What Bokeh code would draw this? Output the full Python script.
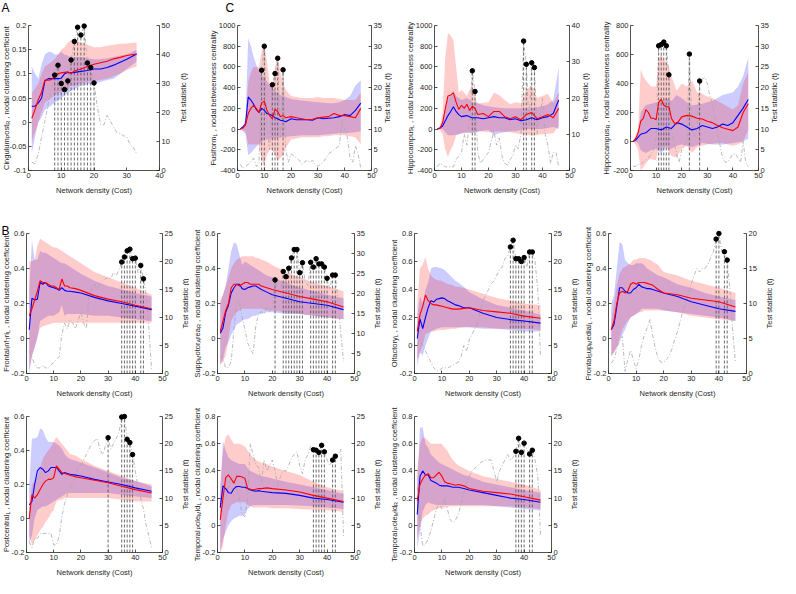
import math
from bokeh.plotting import figure
from bokeh.models import Range1d, LinearAxis, FixedTicker, CustomJSTickFormatter
from bokeh.core.properties import value
from bokeh.layouts import row, column
from bokeh.embed import file_html
from bokeh.resources import INLINE

FONT = "Liberation Sans"
AXC = "#262626"
FS = 7.5
FS_SUB = 5.5

# ---------------- x grids (network density, %) ----------------
DENSITY = list(range(1, 47))
DENSITY_A = list(range(1, 34))
XA = [1, 2, 3, 4, 5, 6, 7, 8, 9, 10, 11, 12, 13, 14, 16, 18, 20, 22, 24, 26, 28, 30, 33]
XB = [1, 2, 3, 4, 5, 6, 7, 8, 9, 10, 11, 12, 13, 14, 15, 16, 18, 20, 25, 30, 35, 40, 46]
XC = [1, 2, 3, 4, 5, 6, 7, 8, 9, 10, 11, 12, 13, 14, 15, 16, 17, 18,
      20, 22, 24, 26, 28, 30, 32, 34, 36, 38, 40, 42, 44, 46]

X_LABEL = "Network density (Cost)"
T_LABEL = "Test statistic (t)"
CLUST = "nodal clustering coefficient"
BETW = "nodal betweenness centrality"

# ---------------- Panel A : Cingulum_Post_R ----------------
A_region = "Cingulum_Post_R"
A_red = [0.008, 0.026, 0.047, 0.062, 0.087, 0.087, 0.088, 0.095, 0.1, 0.102, 0.103, 0.104, 0.101, 0.106, 0.11, 0.115, 0.12, 0.123, 0.126, 0.131, 0.134, 0.138, 0.141]
A_blue = [0.033, 0.033, 0.04, 0.05, 0.085, 0.09, 0.09, 0.09, 0.09, 0.091, 0.1, 0.103, 0.102, 0.103, 0.105, 0.107, 0.11, 0.11, 0.113, 0.118, 0.124, 0.13, 0.141]
A_red_hi = [0.06, 0.07, 0.08, 0.1, 0.115, 0.12, 0.125, 0.13, 0.14, 0.15, 0.155, 0.165, 0.17, 0.17, 0.165, 0.16, 0.155, 0.155, 0.158, 0.16, 0.162, 0.163, 0.165]
A_red_lo = [-0.04, -0.02, 0.0, 0.02, 0.04, 0.045, 0.05, 0.055, 0.06, 0.062, 0.065, 0.07, 0.075, 0.075, 0.08, 0.083, 0.085, 0.088, 0.09, 0.095, 0.1, 0.108, 0.115]
A_blue_hi = [0.115, 0.1, 0.09, 0.12, 0.14, 0.145, 0.145, 0.14, 0.14, 0.145, 0.14, 0.138, 0.135, 0.135, 0.135, 0.133, 0.13, 0.13, 0.132, 0.135, 0.138, 0.14, 0.15]
A_blue_lo = [-0.065, -0.03, 0.0, 0.01, 0.025, 0.03, 0.035, 0.04, 0.045, 0.05, 0.055, 0.06, 0.065, 0.068, 0.075, 0.078, 0.08, 0.083, 0.087, 0.09, 0.1, 0.11, 0.125]
A_t = [2.9, 2.3, 5.8, 11.6, 17.0, 23.0, 28.0, 32.9, 36.3, 30.0,
       27.9, 30.9, 38.1, 44.5, 49.4, 46.7, 49.8, 37.1, 35.5, 30.2,
       22.0, 16.0, 15.7, 19.0, 17.0, 15.0, 13.0, 12.8, 12.0, 11.6,
       9.0, 8.0, 5.8]
A_sig = [8, 9, 10, 11, 12, 13, 14, 15, 16, 17, 18, 19, 20]
A_xticks = [0, 10, 20, 30, 40]
A_yticks = [-0.1, -0.05, 0, 0.05, 0.1, 0.15, 0.2]
A_tticks = [0, 10, 20, 30, 40, 50]

# ---------------- Panel C1 : Fusiform_L ----------------
C1_region = "Fusiform_L"
C1_red = [0, 10, 40, 150, 200, 230, 200, 160, 250, 270, 180, 130, 100, 190, 170, 120, 130, 110,
          120, 110, 100, 90, 95, 110, 115, 120, 150, 130, 130, 120, 110, 200]
C1_blue = [0, 20, 50, 310, 280, 240, 190, 160, 200, 180, 150, 140, 130, 110, 100, 85, 80, 70,
           100, 90, 90, 90, 85, 110, 100, 105, 110, 120, 140, 130, 180, 250]
C1_red_hi = [0, 30, 60, 450, 550, 600, 600, 600, 750, 830, 650, 450, 400, 600, 700, 550, 450, 380,
             320, 310, 300, 300, 300, 310, 300, 300, 300, 290, 280, 280, 280, 350]
C1_red_lo = [0, -10, -20, -150, -150, -150, -150, -150, -300, -350, -250, -200, -200, -250, -300, -280, -250, -180,
             -100, -90, -80, -80, -80, -80, -70, -70, -60, -60, -60, -70, -80, -150]
C1_blue_hi = [0, 30, 100, 880, 800, 700, 620, 560, 520, 500, 460, 420, 400, 370, 350, 330, 320, 310,
              290, 280, 275, 270, 265, 260, 255, 250, 250, 260, 280, 320, 420, 470]
C1_blue_lo = [0, -20, -50, -250, -230, -200, -170, -150, -130, -100, -100, -95, -90, -90, -85, -80, -80, -75,
              -70, -65, -60, -60, -60, -60, -55, -50, -45, -40, -40, -35, -30, -20]
C1_t = [1.5, 0.5, 1, 1.5, 2, 3, 1, 1.5, 24.2, 30.0,
        10, 5, 20.7, 23.4, 27.1, 8, 24.3, 5, 2, 4,
        3.5, 3, 2.5, 1.5, 2, 2.5, 2, 2.5, 1.5, 1,
        1.5, 2, 3, 4, 4.5, 5, 5.5, 6, 12, 10,
        8, 3, 2, 6, 4, 0.5]
C1_sig = [9, 10, 13, 14, 15, 17]
C1_yticks = [-400, -200, 0, 200, 400, 600, 800, 1000]
C1_tticks = [0, 5, 10, 15, 20, 25, 30, 35]

# ---------------- Panel C2 : Hippocampus_L ----------------
C2_region = "Hippocampus_L"
C2_red = [0, 5, 60, 200, 320, 330, 350, 260, 190, 230, 200, 240, 180, 220, 200, 140, 145, 150,
          120, 170, 170, 120, 100, 120, 90, 140, 160, 100, 120, 140, 110, 200]
C2_blue = [0, 10, 30, 80, 130, 170, 215, 170, 140, 120, 125, 130, 120, 110, 110, 110, 105, 100,
           110, 120, 110, 110, 90, 100, 80, 90, 110, 90, 110, 120, 150, 280]
C2_red_hi = [0, 30, 150, 700, 930, 900, 860, 600, 350, 380, 350, 320, 380, 430, 300, 250, 250, 255,
             260, 350, 330, 280, 240, 260, 250, 380, 420, 300, 320, 340, 250, 360]
C2_red_lo = [0, -10, -50, -200, -270, -200, -150, -60, -50, -40, -35, -30, -35, -40, -30, -20, -20, -25,
             -30, -25, -20, -25, -30, -40, -50, -60, -60, -55, -50, -45, -40, 30]
C2_blue_hi = [0, 20, 60, 200, 300, 330, 370, 320, 300, 280, 290, 300, 280, 260, 255, 250, 240, 230,
              220, 210, 205, 200, 200, 200, 200, 200, 200, 210, 220, 240, 280, 600]
C2_blue_lo = [0, 0, 0, -30, -60, -60, -60, -55, -50, -40, -38, -35, -33, -32, -30, -25, -20, -15,
              -10, -60, -40, -30, -20, -20, -10, 0, 0, 0, 0, 10, 20, 0]
C2_t = [1, 2, 1.5, 1, 1, 1, 1, 3, 4, 5,
        10, 7, 14, 27.5, 21.8, 5, 2, 3, 4, 5,
        8, 10.7, 7, 9, 4, 2, 1.5, 3, 4, 7,
        6, 10, 35.7, 29.3, 12, 29.7, 28.4, 10, 15, 20,
        10, 7, 2, 5, 5, 1]
C2_sig = [14, 15, 33, 34, 36, 37]
C2_yticks = [-400, -200, 0, 200, 400, 600, 800, 1000]
C2_tticks = [0, 10, 20, 30, 40]

# ---------------- Panel C3 : Hippocampus_R ----------------
C3_region = "Hippocampus_R"
C3_red = [0, 20, 60, 140, 160, 220, 200, 160, 160, 150, 270, 290, 250, 240, 240, 160, 130, 120,
          170, 180, 175, 160, 155, 140, 130, 110, 95, 85, 75, 100, 200, 260]
C3_blue = [0, 10, 30, 50, 55, 60, 75, 90, 90, 90, 85, 80, 90, 100, 95, 90, 110, 130,
           120, 100, 80, 90, 110, 100, 90, 100, 120, 110, 130, 180, 230, 290]
C3_red_hi = [0, 40, 100, 500, 450, 420, 400, 380, 380, 380, 570, 600, 560, 550, 520, 450, 400, 350,
             400, 380, 420, 340, 330, 310, 300, 280, 260, 240, 220, 250, 400, 480]
C3_red_lo = [0, -20, -60, -200, -180, -150, -130, -120, -125, -130, -50, -40, -40, -40, -70, -100, -105, -110,
             -50, -30, -80, -40, -30, -20, -15, -10, -10, -20, -30, -20, 0, 80]
C3_blue_hi = [0, 20, 60, 200, 230, 250, 255, 260, 265, 270, 275, 280, 290, 300, 290, 280, 300, 320,
              300, 270, 250, 255, 260, 270, 280, 300, 320, 330, 340, 380, 450, 580]
C3_blue_lo = [0, 0, -10, -60, -70, -80, -70, -60, -55, -50, -65, -80, -60, -40, -45, -50, -40, -30,
              -20, -30, -40, -25, -10, -15, -20, -20, -20, -15, -10, -5, 0, 20]
C3_t = [1, 1, 1.5, 1.5, 2, 2.5, 3, 4, 5, 8,
        30.1, 30.4, 31.0, 30.1, 23.1, 10, 7, 4, 2, 5,
        6, 7, 28.1, 11, 8, 10, 21.6, 22, 22.5, 21,
        18, 16, 13, 9, 6, 3, 2, 2, 3, 4,
        4, 3, 2, 7, 2, 1]
C3_sig = [11, 12, 13, 14, 15, 23, 27]
C3_yticks = [-200, 0, 200, 400, 600, 800]
C3_tticks = [0, 5, 10, 15, 20, 25, 30, 35]

# ---------------- Panel B1 : Frontal_Inf_Tri_L ----------------
B1_region = "Frontal_Inf_Tri_L"
B1_red = [0.13, 0.17, 0.22, 0.27, 0.33, 0.32, 0.32, 0.31, 0.30, 0.30, 0.29, 0.28, 0.34, 0.30, 0.30, 0.29, 0.285, 0.275, 0.245, 0.225, 0.21, 0.19, 0.17]
B1_blue = [0.05, 0.23, 0.22, 0.225, 0.32, 0.31, 0.32, 0.30, 0.295, 0.29, 0.285, 0.275, 0.29, 0.275, 0.27, 0.27, 0.265, 0.26, 0.235, 0.215, 0.2, 0.185, 0.165]
B1_red_hi = [0.44, 0.44, 0.45, 0.53, 0.57, 0.56, 0.55, 0.54, 0.53, 0.52, 0.52, 0.51, 0.50, 0.49, 0.48, 0.47, 0.45, 0.43, 0.38, 0.35, 0.32, 0.29, 0.25]
B1_red_lo = [-0.18, -0.10, -0.05, 0.01, 0.06, 0.07, 0.075, 0.08, 0.085, 0.09, 0.09, 0.09, 0.09, 0.09, 0.09, 0.09, 0.09, 0.09, 0.09, 0.09, 0.09, 0.09, 0.09]
B1_blue_hi = [0.28, 0.56, 0.45, 0.45, 0.50, 0.49, 0.49, 0.48, 0.47, 0.46, 0.45, 0.44, 0.43, 0.43, 0.42, 0.41, 0.39, 0.37, 0.33, 0.30, 0.28, 0.26, 0.24]
B1_blue_lo = [-0.2, -0.1, -0.05, 0.0, 0.1, 0.11, 0.12, 0.13, 0.13, 0.13, 0.14, 0.15, 0.19, 0.13, 0.14, 0.14, 0.14, 0.14, 0.13, 0.13, 0.12, 0.11, 0.10]
B1_t = [4, 3, 1.5, 1, 1, 1.5, 1, 1, 1.5, 2,
        2.5, 3, 7, 9, 8, 9.5, 9, 8, 9.5, 11,
        9, 8, 14, 15, 16, 15, 16, 16.5, 17, 17,
        17, 18, 17.5, 18.5, 19.9, 20.8, 21.9, 22.2, 20.5, 20.6,
        18, 19.3, 16.9, 14, 8, 0.5]
B1_sig = [35, 36, 37, 38, 39, 40, 42, 43]
B1_yticks = [-0.2, 0, 0.2, 0.4, 0.6]
B1_tticks = [0, 5, 10, 15, 20, 25]

# ---------------- Panel B2 : Supp_Motor_Area_R ----------------
B2_region = "Supp_Motor_Area_R"
B2_red = [0.04, 0.10, 0.16, 0.20, 0.29, 0.31, 0.31, 0.30, 0.31, 0.32, 0.32, 0.31, 0.31, 0.31, 0.31, 0.30, 0.29, 0.28, 0.26, 0.24, 0.225, 0.21, 0.18]
B2_blue = [0.03, 0.06, 0.15, 0.19, 0.26, 0.29, 0.31, 0.31, 0.285, 0.28, 0.29, 0.295, 0.30, 0.30, 0.29, 0.28, 0.265, 0.25, 0.23, 0.21, 0.20, 0.19, 0.165]
B2_red_hi = [0.22, 0.25, 0.30, 0.35, 0.40, 0.43, 0.45, 0.46, 0.47, 0.47, 0.47, 0.47, 0.47, 0.46, 0.46, 0.45, 0.44, 0.42, 0.38, 0.35, 0.32, 0.30, 0.27]
B2_red_lo = [-0.15, -0.13, -0.10, 0.0, 0.10, 0.13, 0.15, 0.16, 0.17, 0.17, 0.17, 0.17, 0.17, 0.17, 0.17, 0.17, 0.16, 0.16, 0.15, 0.14, 0.13, 0.12, 0.11]
B2_blue_hi = [0.20, 0.25, 0.30, 0.40, 0.50, 0.55, 0.54, 0.48, 0.42, 0.44, 0.43, 0.42, 0.41, 0.40, 0.39, 0.38, 0.36, 0.35, 0.32, 0.29, 0.27, 0.25, 0.23]
B2_blue_lo = [-0.15, -0.12, -0.05, -0.02, 0.02, 0.05, 0.08, 0.09, 0.10, 0.11, 0.11, 0.12, 0.13, 0.13, 0.14, 0.14, 0.15, 0.15, 0.14, 0.14, 0.13, 0.12, 0.11]
B2_t = [4.5, 3.5, 1.5, 1.5, 3, 11, 17.5, 18, 14, 11,
        7.7, 6, 5, 12, 15, 15.5, 15, 16.7, 15.5, 16.5,
        23.4, 21, 20, 25.5, 24.2, 26.3, 28.9, 31.0, 31.0, 25.2,
        27.7, 23, 22, 27.8, 26.6, 28.7, 27.4, 27.4, 26.6, 23.8,
        21, 24.6, 24.6, 18, 10, 3]
B2_sig = [21, 24, 25, 26, 27, 28, 29, 30, 31, 34, 35, 36, 37, 38, 39, 40, 42, 43]
B2_yticks = [-0.2, 0, 0.2, 0.4, 0.6]
B2_tticks = [0, 5, 10, 15, 20, 25, 30, 35]

# ---------------- Panel B3 : Olfactory_L ----------------
B3_region = "Olfactory_L"
B3_red = [0.10, 0.22, 0.28, 0.36, 0.32, 0.30, 0.29, 0.29, 0.285, 0.28, 0.275, 0.27, 0.265, 0.26, 0.26, 0.26, 0.265, 0.27, 0.25, 0.24, 0.23, 0.21, 0.195]
B3_blue = [0.05, 0.19, 0.12, 0.20, 0.27, 0.32, 0.31, 0.33, 0.335, 0.34, 0.335, 0.32, 0.31, 0.30, 0.29, 0.285, 0.27, 0.27, 0.23, 0.20, 0.185, 0.175, 0.16]
B3_red_hi = [0.30, 0.55, 0.58, 0.63, 0.55, 0.50, 0.48, 0.47, 0.465, 0.46, 0.45, 0.44, 0.435, 0.43, 0.42, 0.42, 0.41, 0.40, 0.37, 0.34, 0.32, 0.30, 0.29]
B3_red_lo = [-0.10, -0.05, 0.0, 0.08, 0.09, 0.10, 0.10, 0.105, 0.11, 0.11, 0.11, 0.115, 0.12, 0.12, 0.12, 0.125, 0.13, 0.13, 0.13, 0.12, 0.12, 0.12, 0.11]
B3_blue_hi = [0.20, 0.35, 0.30, 0.40, 0.45, 0.55, 0.56, 0.56, 0.555, 0.55, 0.54, 0.52, 0.50, 0.48, 0.46, 0.45, 0.42, 0.38, 0.33, 0.29, 0.27, 0.25, 0.22]
B3_blue_lo = [-0.15, -0.05, -0.07, 0.0, 0.05, 0.10, 0.11, 0.12, 0.125, 0.13, 0.13, 0.13, 0.13, 0.13, 0.13, 0.13, 0.13, 0.13, 0.12, 0.12, 0.11, 0.10, 0.10]
B3_t = [5, 6, 5, 4, 3, 2, 1, 0.5, 0.5, 1,
        1, 1, 1.2, 1.5, 1.8, 2, 3, 5, 4, 6,
        7, 8, 9, 11, 13, 14, 15, 16, 16.5, 17.5,
        18.5, 19, 20.5, 21, 22.6, 23.8, 20.5, 20.5, 20.0, 20.7,
        19, 21.7, 21.7, 20, 15, 3]
B3_sig = [35, 36, 37, 38, 39, 40, 42, 43]
B3_yticks = [-0.2, 0, 0.2, 0.4, 0.6, 0.8]
B3_tticks = [0, 5, 10, 15, 20, 25]

# ---------------- Panel B4 : Frontal_Sup_Medial_L ----------------
B4_region = "Frontal_Sup_Medial_L"
B4_red = [0.05, 0.10, 0.20, 0.26, 0.27, 0.26, 0.27, 0.31, 0.32, 0.31, 0.32, 0.32, 0.32, 0.315, 0.31, 0.305, 0.28, 0.26, 0.25, 0.23, 0.22, 0.21, 0.18]
B4_blue = [0.05, 0.08, 0.18, 0.29, 0.29, 0.27, 0.26, 0.26, 0.28, 0.29, 0.31, 0.295, 0.29, 0.285, 0.285, 0.28, 0.27, 0.26, 0.24, 0.21, 0.19, 0.17, 0.155]
B4_red_hi = [0.10, 0.20, 0.30, 0.37, 0.40, 0.41, 0.42, 0.43, 0.45, 0.45, 0.46, 0.46, 0.46, 0.455, 0.45, 0.44, 0.42, 0.38, 0.36, 0.33, 0.31, 0.29, 0.26]
B4_red_lo = [-0.10, -0.08, -0.05, 0.0, 0.05, 0.08, 0.10, 0.12, 0.13, 0.14, 0.15, 0.15, 0.16, 0.16, 0.16, 0.16, 0.16, 0.16, 0.15, 0.13, 0.12, 0.11, 0.10]
B4_blue_hi = [0.20, 0.25, 0.40, 0.55, 0.54, 0.45, 0.43, 0.42, 0.42, 0.43, 0.43, 0.43, 0.42, 0.40, 0.39, 0.38, 0.36, 0.35, 0.31, 0.29, 0.26, 0.24, 0.22]
B4_blue_lo = [-0.10, -0.08, -0.05, -0.02, 0.02, 0.05, 0.09, 0.12, 0.13, 0.14, 0.15, 0.17, 0.17, 0.17, 0.17, 0.17, 0.17, 0.16, 0.15, 0.14, 0.13, 0.12, 0.10]
B4_t = [1.5, 2, 3.5, 4.9, 5.3, 0.3, 2, 3.3, 2, 0.7,
        2, 4, 5.5, 6.5, 7.7, 5.5, 3.5, 2.2, 1.6, 1.6,
        2, 2.5, 3.5, 4.9, 6, 7.5, 9, 10, 11.5, 12.8,
        14, 15, 14.5, 15, 15, 15.6, 16.5, 17.4, 19.2, 20.0,
        17.5, 17.4, 16.2, 12, 6, 1.5]
B4_sig = [39, 40, 42, 43]
B4_yticks = [-0.2, 0, 0.2, 0.4, 0.6]
B4_tticks = [0, 5, 10, 15, 20]

# ---------------- Panel B5 : Postcentral_L ----------------
B5_region = "Postcentral_L"
B5_red = [0.0, 0.14, 0.12, 0.14, 0.17, 0.20, 0.22, 0.23, 0.23, 0.24, 0.31, 0.29, 0.27, 0.265, 0.26, 0.255, 0.245, 0.24, 0.225, 0.21, 0.19, 0.17, 0.15]
B5_blue = [0.08, 0.10, 0.20, 0.28, 0.30, 0.29, 0.27, 0.28, 0.30, 0.30, 0.30, 0.28, 0.26, 0.27, 0.265, 0.26, 0.255, 0.25, 0.23, 0.215, 0.20, 0.18, 0.16]
B5_red_hi = [0.05, 0.20, 0.22, 0.25, 0.30, 0.35, 0.38, 0.40, 0.42, 0.45, 0.48, 0.46, 0.44, 0.42, 0.40, 0.38, 0.37, 0.35, 0.31, 0.28, 0.25, 0.22, 0.20]
B5_red_lo = [-0.10, -0.15, -0.13, -0.10, -0.07, -0.05, -0.02, 0.0, 0.03, 0.05, 0.10, 0.11, 0.11, 0.12, 0.12, 0.12, 0.12, 0.12, 0.12, 0.12, 0.11, 0.10, 0.10]
B5_blue_hi = [0.20, 0.47, 0.47, 0.48, 0.53, 0.52, 0.48, 0.45, 0.45, 0.45, 0.44, 0.43, 0.41, 0.38, 0.36, 0.35, 0.34, 0.33, 0.30, 0.27, 0.24, 0.22, 0.19]
B5_blue_lo = [-0.15, -0.10, 0.0, 0.05, 0.06, 0.07, 0.07, 0.08, 0.09, 0.10, 0.11, 0.12, 0.13, 0.14, 0.15, 0.15, 0.15, 0.15, 0.15, 0.15, 0.14, 0.13, 0.12]
B5_t = [2, 0.9, 2.6, 2.6, 3.5, 3.5, 3.5, 3.5, 3.5, 1.4,
        1.4, 3, 6.6, 9, 10.7, 12, 13, 14, 15.9, 16,
        17, 18, 19, 20, 20.5, 21, 19, 18, 19.5, 21.1,
        19, 20, 21, 22, 24.9, 25.0, 20.8, 20.2, 18.0, 15,
        12, 10, 8, 5, 3, 0.9]
B5_sig = [30, 35, 36, 37, 38, 39]
B5_yticks = [-0.2, 0, 0.2, 0.4, 0.6]
B5_tticks = [0, 5, 10, 15, 20, 25]

# ---------------- Panel B6 : Temporal_Pole_Mid_L ----------------
B6_region = "Temporal_Pole_Mid_L"
B6_red = [0.04, 0.20, 0.35, 0.37, 0.34, 0.31, 0.36, 0.36, 0.355, 0.345, 0.27, 0.265, 0.26, 0.265, 0.27, 0.27, 0.275, 0.27, 0.26, 0.245, 0.22, 0.20, 0.175]
B6_blue = [0.13, 0.29, 0.27, 0.24, 0.235, 0.27, 0.285, 0.285, 0.28, 0.28, 0.27, 0.26, 0.255, 0.25, 0.255, 0.25, 0.245, 0.24, 0.235, 0.22, 0.20, 0.19, 0.17]
B6_red_hi = [0.30, 0.55, 0.65, 0.67, 0.63, 0.60, 0.60, 0.60, 0.59, 0.58, 0.55, 0.52, 0.50, 0.48, 0.47, 0.46, 0.45, 0.43, 0.40, 0.37, 0.32, 0.28, 0.25]
B6_red_lo = [-0.20, -0.15, 0.0, 0.10, 0.15, 0.16, 0.17, 0.17, 0.17, 0.17, 0.15, 0.14, 0.13, 0.13, 0.13, 0.13, 0.13, 0.125, 0.125, 0.12, 0.115, 0.11, 0.10]
B6_blue_hi = [0.25, 0.62, 0.55, 0.50, 0.48, 0.47, 0.46, 0.45, 0.45, 0.45, 0.42, 0.40, 0.39, 0.38, 0.37, 0.36, 0.355, 0.345, 0.32, 0.30, 0.28, 0.26, 0.23]
B6_blue_lo = [-0.20, -0.10, -0.05, 0.0, 0.03, 0.05, 0.06, 0.07, 0.07, 0.08, 0.12, 0.14, 0.15, 0.15, 0.15, 0.15, 0.15, 0.15, 0.15, 0.145, 0.14, 0.13, 0.12]
B6_t = [9, 9, 10, 12, 14, 13, 12, 10, 7, 6.6,
        10, 20, 18, 16, 15.7, 12.8, 17, 15, 16, 17,
        15, 12.2, 14, 15, 15, 16, 17.4, 18, 18.5, 16,
        14.5, 17, 18, 19.5, 18.9, 18.8, 18.4, 19.7, 18.5, 17,
        16, 17.0, 17.7, 18, 19, 3]
B6_sig = [35, 36, 37, 38, 39, 42, 43]
B6_yticks = [-0.2, 0, 0.2, 0.4, 0.6, 0.8]
B6_tticks = [0, 5, 10, 15, 20, 25]

# ---------------- Panel B7 : Temporal_Pole_Mid_R ----------------
B7_region = "Temporal_Pole_Mid_R"
B7_red = [0.18, 0.30, 0.34, 0.37, 0.38, 0.35, 0.35, 0.37, 0.39, 0.36, 0.32, 0.31, 0.305, 0.30, 0.295, 0.30, 0.29, 0.27, 0.25, 0.24, 0.23, 0.21, 0.185]
B7_blue = [0.08, 0.36, 0.40, 0.37, 0.37, 0.33, 0.32, 0.31, 0.295, 0.29, 0.29, 0.29, 0.285, 0.28, 0.28, 0.28, 0.27, 0.26, 0.24, 0.22, 0.20, 0.19, 0.17]
B7_red_hi = [0.40, 0.60, 0.65, 0.64, 0.62, 0.60, 0.60, 0.60, 0.60, 0.60, 0.57, 0.55, 0.51, 0.48, 0.46, 0.44, 0.42, 0.40, 0.36, 0.34, 0.32, 0.30, 0.26]
B7_red_lo = [-0.10, 0.0, 0.05, 0.07, 0.08, 0.10, 0.11, 0.12, 0.125, 0.13, 0.13, 0.135, 0.14, 0.14, 0.14, 0.14, 0.14, 0.14, 0.14, 0.14, 0.14, 0.13, 0.12]
B7_blue_hi = [0.30, 0.72, 0.72, 0.60, 0.57, 0.52, 0.50, 0.48, 0.46, 0.45, 0.44, 0.43, 0.42, 0.41, 0.40, 0.39, 0.37, 0.36, 0.32, 0.30, 0.28, 0.26, 0.24]
B7_blue_lo = [-0.17, -0.05, 0.10, 0.15, 0.17, 0.16, 0.155, 0.15, 0.15, 0.15, 0.15, 0.15, 0.15, 0.15, 0.15, 0.15, 0.15, 0.15, 0.15, 0.14, 0.13, 0.12, 0.11]
B7_t = [12, 5, 1.2, 1.5, 2.5, 4, 6, 8, 9, 8,
        10, 8, 6, 5.5, 6, 7, 9, 11, 13, 14,
        15, 15.5, 16, 16.5, 16.8, 17, 17, 17, 15, 13,
        15, 16, 17, 18, 17, 17.5, 18.6, 21.0, 18.4, 20.1,
        19, 18.1, 18.8, 17, 14, 3]
B7_sig = [37, 38, 39, 40, 42, 43]
B7_yticks = [-0.2, 0, 0.2, 0.4, 0.6, 0.8]
B7_tticks = [0, 5, 10, 15, 20, 25]

B_xticks = [0, 10, 20, 30, 40, 50]
C_xticks = [0, 10, 20, 30, 40, 50]

# ---------------- helpers ----------------
# Arial / Liberation Sans advance widths (1/1000 em)
AW = {" ": 278, ",": 278, "(": 333, ")": 333, ".": 278,
      "A": 667, "B": 667, "C": 722, "D": 722, "E": 667, "F": 611, "G": 778, "H": 722, "I": 278,
      "J": 500, "K": 667, "L": 556, "M": 833, "N": 722, "O": 778, "P": 667, "Q": 778, "R": 722,
      "S": 667, "T": 611, "U": 722, "V": 667, "W": 944, "X": 667, "Y": 667, "Z": 611,
      "a": 556, "b": 556, "c": 500, "d": 556, "e": 556, "f": 278, "g": 556, "h": 556, "i": 222,
      "j": 222, "k": 500, "l": 222, "m": 833, "n": 556, "o": 556, "p": 556, "q": 556, "r": 333,
      "s": 500, "t": 278, "u": 556, "v": 500, "w": 722, "x": 500, "y": 500, "z": 500}


def text_w(s, fs):
    return sum(AW.get(c, 556) for c in s) * fs / 1000.0


def tex_segments(s):
    segs, buf, i = [], "", 0
    while i < len(s):
        if s[i] == "_" and i + 1 < len(s):
            if buf:
                segs.append((buf, False))
                buf = ""
            segs.append((s[i + 1], True))
            i += 2
        else:
            buf += s[i]
            i += 1
    if buf:
        segs.append((buf, False))
    return segs


FMT_CODE = "return String(Math.round(tick * 1000) / 1000);"


def style_axis(ax, ticks, bounds, loc):
    ax.ticker = FixedTicker(ticks=ticks)
    ax.formatter = CustomJSTickFormatter(code=FMT_CODE)
    ax.bounds = bounds
    ax.fixed_location = loc
    ax.axis_line_color = AXC
    ax.axis_line_width = 0.8
    ax.major_tick_line_color = AXC
    ax.major_tick_line_width = 0.8
    ax.major_tick_in = 3
    ax.major_tick_out = 0
    ax.minor_tick_line_color = None
    ax.major_label_text_font = FONT
    ax.major_label_text_font_size = f"{FS}px"
    ax.major_label_text_color = AXC
    ax.major_label_standoff = 2


def make_panel(geom, xb, xticks, yb, yticks, tb, tticks, x, red, red_lo, red_hi,
               blue, blue_lo, blue_hi, tx, t, sig, region, metric, ylab_dx, tlab_dx,
               letter=None):
    # geom: canvas width, canvas height, px of axis origin from left, axes width,
    #       px of axes top from canvas top, px below the axes
    W, H, L, pw, T, bb = geom
    ph = H - bb - T
    sx = (xb[1] - xb[0]) / pw
    sy = (yb[1] - yb[0]) / ph
    st = (tb[1] - tb[0]) / ph
    xr = (xb[0] - L * sx, xb[0] + (W - L) * sx)
    yr = (yb[0] - bb * sy, yb[1] + T * sy)
    tr = (tb[0] - bb * st, tb[1] + T * st)

    def X(px):
        return xr[0] + px * sx

    def Y(py):
        return yr[1] - py * sy

    p = figure(width=W, height=H, x_range=Range1d(*xr), y_range=Range1d(*yr),
               output_backend="svg", toolbar_location=None,
               min_border_left=0, min_border_right=0, min_border_top=0, min_border_bottom=0)
    p.extra_y_ranges = {"t": Range1d(*tr)}
    p.grid.visible = False
    p.outline_line_color = None
    p.background_fill_color = "white"
    p.border_fill_color = "white"

    p.varea(x=x, y1=blue_lo, y2=blue_hi, fill_color="#0000ff", fill_alpha=0.2)
    p.varea(x=x, y1=red_lo, y2=red_hi, fill_color="#ff0000", fill_alpha=0.2)
    p.line(tx, t, y_range_name="t", line_color="#a8a8a8", line_width=0.8, line_dash="4 2 1 2")
    sig_t = [t[tx.index(v)] for v in sig]
    p.segment(x0=sig, y0=[0] * len(sig), x1=sig, y1=sig_t, y_range_name="t",
              line_color="#5a5a5a", line_width=0.9, line_dash="3 2")
    p.line(x, blue, line_color="#0000ff", line_width=1.1)
    p.line(x, red, line_color="#ff0000", line_width=1.1)
    p.scatter(sig, sig_t, y_range_name="t", size=4.5, fill_color="black", line_color="black")

    style_axis(p.xaxis[0], xticks, xb, yb[0])
    style_axis(p.yaxis[0], yticks, yb, xb[0])
    rax = LinearAxis(y_range_name="t")
    style_axis(rax, tticks, tb, xb[1])
    p.add_layout(rax, "right")

    # x label
    p.text(x=[(xb[0] + xb[1]) / 2.0], y=[Y(T + ph + 20)], text=[X_LABEL],
           text_font=value(FONT), text_font_size=value(f"{FS}px"), text_color=AXC,
           text_align="center", text_baseline="alphabetic")

    # y label with TeX-like subscripts, reading bottom to top
    cyp = T + ph / 2.0
    segs = tex_segments(region + " , " + metric)
    total = sum(text_w(s, FS_SUB if sub else FS) for s, sub in segs)
    pos = -total / 2.0
    mx, my, mt, bx, by, bt = [], [], [], [], [], []
    for s, sub in segs:
        fs = FS_SUB if sub else FS
        body = s.lstrip(" ")
        lead = text_w(" " * (len(s) - len(body)), fs)
        if sub:
            bx.append(X(L + ylab_dx + 1.8))
            by.append(Y(cyp - (pos + lead)))
            bt.append(body)
        else:
            mx.append(X(L + ylab_dx))
            my.append(Y(cyp - (pos + lead)))
            mt.append(body.rstrip(" "))
        pos += text_w(s, fs)
    p.text(x=mx, y=my, text=mt, angle=math.pi / 2, text_font=value(FONT),
           text_font_size=value(f"{FS}px"), text_color=AXC,
           text_align="left", text_baseline="alphabetic")
    p.text(x=bx, y=by, text=bt, angle=math.pi / 2, text_font=value(FONT),
           text_font_size=value(f"{FS_SUB}px"), text_color=AXC,
           text_align="left", text_baseline="alphabetic")
    # right axis label
    p.text(x=[X(L + pw + tlab_dx)], y=[Y(cyp)], text=[T_LABEL], angle=math.pi / 2,
           text_font=value(FONT), text_font_size=value(f"{FS}px"), text_color=AXC,
           text_align="center", text_baseline="alphabetic")
    if letter is not None:
        txt, lx, ly = letter
        p.text(x=[X(lx)], y=[Y(ly)], text=[txt], text_font=value(FONT),
               text_font_size=value("12px"), text_color="black",
               text_align="left", text_baseline="top")
    return p


# ---------------- build panels ----------------
fA = make_panel((192, 196, 28, 131, 25, 26), (0, 40), A_xticks, (-0.1, 0.2), A_yticks, (0, 50), A_tticks,
                XA, A_red, A_red_lo, A_red_hi, A_blue, A_blue_lo, A_blue_hi,
                DENSITY_A, A_t, A_sig, A_region, CLUST, -22, 24, letter=("A", 1, 0))
fC1 = make_panel((200, 196, 45, 134, 25, 26), (0, 50), C_xticks, (-400, 1000), C1_yticks, (0, 35), C1_tticks,
                 XC, C1_red, C1_red_lo, C1_red_hi, C1_blue, C1_blue_lo, C1_blue_hi,
                 DENSITY, C1_t, C1_sig, C1_region, BETW, -24, 16, letter=("C", 33, 0))
fC2 = make_panel((198, 196, 42, 135, 25, 26), (0, 50), C_xticks, (-400, 1000), C2_yticks, (0, 40), C2_tticks,
                 XC, C2_red, C2_red_lo, C2_red_hi, C2_blue, C2_blue_lo, C2_blue_hi,
                 DENSITY, C2_t, C2_sig, C2_region, BETW, -24, 16)
fC3 = make_panel((190, 196, 40, 128, 25, 26), (0, 50), C_xticks, (-200, 800), C3_yticks, (0, 35), C3_tticks,
                 XC, C3_red, C3_red_lo, C3_red_hi, C3_blue, C3_blue_lo, C3_blue_hi,
                 DENSITY, C3_t, C3_sig, C3_region, BETW, -24, 16)

fB1 = make_panel((189, 202, 26, 136, 37, 25), (0, 50), B_xticks, (-0.2, 0.6), B1_yticks, (0, 25), B1_tticks,
                 XB, B1_red, B1_red_lo, B1_red_hi, B1_blue, B1_blue_lo, B1_blue_hi,
                 DENSITY, B1_t, B1_sig, B1_region, CLUST, -20, 23, letter=("B", 1, 27))
fB2 = make_panel((195, 202, 28, 137, 37, 25), (0, 50), B_xticks, (-0.2, 0.6), B2_yticks, (0, 35), B2_tticks,
                 XB, B2_red, B2_red_lo, B2_red_hi, B2_blue, B2_blue_lo, B2_blue_hi,
                 DENSITY, B2_t, B2_sig, B2_region, CLUST, -20, 23)
fB3 = make_panel((196, 202, 30, 137, 37, 25), (0, 50), B_xticks, (-0.2, 0.8), B3_yticks, (0, 25), B3_tticks,
                 XB, B3_red, B3_red_lo, B3_red_hi, B3_blue, B3_blue_lo, B3_blue_hi,
                 DENSITY, B3_t, B3_sig, B3_region, CLUST, -20, 23)
fB4 = make_panel((200, 202, 28, 138, 37, 25), (0, 50), B_xticks, (-0.2, 0.6), B4_yticks, (0, 20), B4_tticks,
                 XB, B4_red, B4_red_lo, B4_red_hi, B4_blue, B4_blue_lo, B4_blue_hi,
                 DENSITY, B4_t, B4_sig, B4_region, CLUST, -20, 23)
fB5 = make_panel((189, 180, 26, 136, 18, 26), (0, 50), B_xticks, (-0.2, 0.6), B5_yticks, (0, 25), B5_tticks,
                 XB, B5_red, B5_red_lo, B5_red_hi, B5_blue, B5_blue_lo, B5_blue_hi,
                 DENSITY, B5_t, B5_sig, B5_region, CLUST, -20, 23)
fB6 = make_panel((195, 180, 28, 137, 18, 26), (0, 50), B_xticks, (-0.2, 0.8), B6_yticks, (0, 25), B6_tticks,
                 XB, B6_red, B6_red_lo, B6_red_hi, B6_blue, B6_blue_lo, B6_blue_hi,
                 DENSITY, B6_t, B6_sig, B6_region, CLUST, -20, 23)
fB7 = make_panel((196, 180, 30, 137, 18, 26), (0, 50), B_xticks, (-0.2, 0.8), B7_yticks, (0, 25), B7_tticks,
                 XB, B7_red, B7_red_lo, B7_red_hi, B7_blue, B7_blue_lo, B7_blue_hi,
                 DENSITY, B7_t, B7_sig, B7_region, CLUST, -20, 23)

layout = column(row(fA, fC1, fC2, fC3), row(fB1, fB2, fB3, fB4), row(fB5, fB6, fB7))

with open("out.html", "w") as f:
    f.write(file_html(layout, INLINE, title="Network density panels"))
